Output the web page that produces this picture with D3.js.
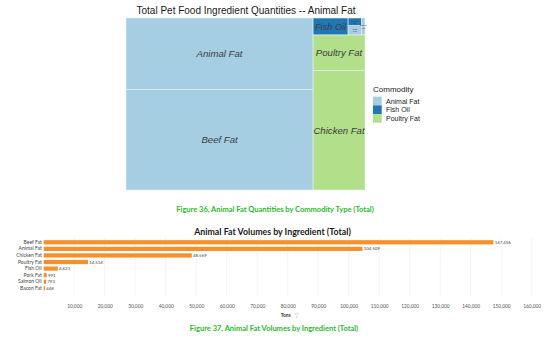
<!DOCTYPE html>
<html>
<head>
<meta charset="utf-8">
<script src="https://cdn.jsdelivr.net/npm/d3@7/dist/d3.min.js"></script>
<style>
  html, body { margin: 0; padding: 0; background: #fff; }
  svg { display: block; }
</style>
</head>
<body>
<script>
// ---------------- DATA ----------------
const ingredients = ["Beef Fat", "Animal Fat", "Chicken Fat", "Poultry Fat", "Fish Oil", "Pork Fat", "Salmon Oil", "Bacon Fat"];
const tons = [147456, 104509, 48569, 14514, 4623, 991, 793, 448];
const commodityOf = ["Animal Fat", "Animal Fat", "Poultry Fat", "Poultry Fat", "Fish Oil", "Animal Fat", "Fish Oil", "Animal Fat"];
const commodities = ["Animal Fat", "Fish Oil", "Poultry Fat"];
const commodityColors = ["#a6cee3", "#1f78b4", "#b2df8a"];
const xTickValues = [10000, 20000, 30000, 40000, 50000, 60000, 70000, 80000, 90000, 100000, 110000, 120000, 130000, 140000, 150000, 160000];
const treemapTitle = "Total Pet Food Ingredient Quantities -- Animal Fat";
const legendTitle = "Commodity";
const caption1 = "Figure 36, Animal Fat Quantities by Commodity Type (Total)";
const barTitle = "Animal Fat Volumes by Ingredient (Total)";
const axisTitle = "Tons";
const caption2 = "Figure 37, Animal Fat Volumes by Ingredient (Total)";

// ---------------- SETUP ----------------
const W = 554, H = 338;
const svg = d3.select("body").append("svg").attr("width", W).attr("height", H);
const fillColor = d3.scaleOrdinal().domain(commodities).range(commodityColors);

// ---------------- TREEMAP ----------------
const tm = { x0: 126, y0: 18, x1: 365, y1: 190 };
const tmW = tm.x1 - tm.x0, tmH = tm.y1 - tm.y0;
const root = d3.hierarchy({ children: ingredients.map((n, i) => ({ name: n, value: tons[i], commodity: commodityOf[i] })) })
  .sum(d => d.value || 0)
  .sort((a, b) => b.value - a.value);
d3.treemap().tile(d3.treemapSquarify.ratio(1.45)).size([tmW, tmH]).round(false)(root);

const tx = d3.scaleLinear().domain([0, tmW]).range([tm.x0, tm.x1]);
const ty = d3.scaleLinear().domain([0, tmH]).range([tm.y1, tm.y0]); // flipped vertically

svg.append("text")
  .attr("x", 246).attr("y", 13.5)
  .attr("text-anchor", "middle")
  .style("font-family", "'Liberation Sans', Arial, sans-serif")
  .style("font-size", "10px")
  .attr("fill", "#1a1a1a")
  .text(treemapTitle);

const cells = svg.append("g").selectAll("g").data(root.leaves()).join("g");
cells.append("rect")
  .attr("x", d => tx(d.x0))
  .attr("y", d => ty(d.y1))
  .attr("width", d => tx(d.x1) - tx(d.x0))
  .attr("height", d => ty(d.y0) - ty(d.y1))
  .attr("fill", d => fillColor(d.data.commodity))
  .attr("stroke", "#e8eef2")
  .attr("stroke-width", 0.6);

cells.filter(d => tx(d.x1) - tx(d.x0) > 25)
  .append("text")
  .attr("x", d => (tx(d.x0) + tx(d.x1)) / 2)
  .attr("y", d => (ty(d.y0) + ty(d.y1)) / 2 + 3.4)
  .attr("text-anchor", "middle")
  .style("font-family", "'Liberation Sans', Arial, sans-serif")
  .style("font-style", "italic")
  .style("font-size", d => (tx(d.x1) - tx(d.x0) < 40 ? "9.2px" : "9.6px"))
  .attr("fill", "#3c3c3c")
  .text(d => d.data.name);

// tiny labels in tiny cells
const tiny = cells.filter(d => tx(d.x1) - tx(d.x0) <= 25 && (ty(d.y0) - ty(d.y1)) > 5);
tiny.append("text")
  .attr("x", d => (tx(d.x0) + tx(d.x1)) / 2)
  .attr("y", d => (ty(d.y0) + ty(d.y1)) / 2 - 0.2)
  .attr("text-anchor", "middle")
  .style("font-family", "'Liberation Sans', Arial, sans-serif")
  .style("font-size", "2.4px")
  .attr("fill", "#3c3c3c")
  .text(d => d.data.name.split(" ")[0]);
tiny.append("text")
  .attr("x", d => (tx(d.x0) + tx(d.x1)) / 2)
  .attr("y", d => (ty(d.y0) + ty(d.y1)) / 2 + 2.3)
  .attr("text-anchor", "middle")
  .style("font-family", "'Liberation Sans', Arial, sans-serif")
  .style("font-size", "2.4px")
  .attr("fill", "#3c3c3c")
  .text(d => d.data.name.split(" ")[1]);

// legend
const lg = svg.append("g");
lg.append("text")
  .attr("x", 373).attr("y", 91.5)
  .style("font-family", "'Liberation Sans', Arial, sans-serif")
  .style("font-size", "8px")
  .attr("fill", "#222")
  .text(legendTitle);
const legY = d3.scaleBand().domain(commodities).range([96.7, 122.7]);
const li = lg.selectAll("g.item").data(commodities).join("g").attr("class", "item");
li.append("rect")
  .attr("x", 373).attr("y", d => legY(d))
  .attr("width", 8.7).attr("height", legY.bandwidth())
  .attr("fill", d => fillColor(d));
li.append("text")
  .attr("x", 386).attr("y", d => legY(d) + legY.bandwidth() / 2 + 2.5)
  .style("font-family", "'Liberation Sans', Arial, sans-serif")
  .style("font-size", "7px")
  .attr("fill", "#222")
  .text(d => d);

// caption 1
const captionColor = "#2db82d";
svg.append("text")
  .attr("x", 275).attr("y", 211.5)
  .attr("text-anchor", "middle")
  .style("font-family", "Lato, 'Open Sans', sans-serif")
  .style("font-weight", "bold")
  .style("font-size", "7.5px")
  .attr("fill", captionColor)
  .text(caption1);

// ---------------- BAR CHART ----------------
const bx = d3.scaleLinear().domain([0, 160000]).range([43.7, 531.7]);
const by = d3.scaleBand().domain(ingredients).range([239, 291.6]).paddingInner(0.36).paddingOuter(0.18);

svg.append("text")
  .attr("x", 272.5).attr("y", 235)
  .attr("text-anchor", "middle")
  .style("font-family", "Lato, 'Open Sans', sans-serif")
  .style("font-weight", "bold")
  .style("font-size", "8.8px")
  .attr("fill", "#1a1a1a")
  .text(barTitle);

// gridlines
svg.append("g").selectAll("line").data(xTickValues).join("line")
  .attr("x1", d => bx(d)).attr("x2", d => bx(d))
  .attr("y1", 238).attr("y2", 296)
  .attr("stroke", "#ececec").attr("stroke-width", 0.6);

// x axis via d3.axisBottom
const xAxis = d3.axisBottom(bx).tickValues(xTickValues).tickFormat(d3.format(",")).tickSize(0).tickPadding(0);
const gx = svg.append("g").attr("transform", "translate(0,305)").call(xAxis);
gx.select(".domain").remove();
gx.selectAll("text")
  .style("font-family", "Lato, 'Open Sans', sans-serif")
  .style("font-size", "4.8px")
  .attr("fill", "#555");

// y axis labels via d3.axisLeft
const yAxis = d3.axisLeft(by).tickSize(0).tickPadding(2);
const gy = svg.append("g").attr("transform", "translate(43.7,0)").call(yAxis);
gy.select(".domain").remove();
gy.selectAll("text")
  .style("font-family", "Lato, 'Open Sans', sans-serif")
  .style("font-size", "5px")
  .attr("fill", "#444");

// bars
svg.append("g").selectAll("rect").data(ingredients).join("rect")
  .attr("x", bx(0))
  .attr("y", d => by(d))
  .attr("width", (d, i) => bx(tons[i]) - bx(0))
  .attr("height", by.bandwidth())
  .attr("fill", "#f5902b");

// value labels
svg.append("g").selectAll("text").data(ingredients).join("text")
  .attr("x", (d, i) => bx(tons[i]) + 1.2)
  .attr("y", d => by(d) + by.bandwidth() / 2 + 1.6)
  .style("font-family", "Lato, 'Open Sans', sans-serif")
  .style("font-size", "4.4px")
  .attr("fill", "#444")
  .text((d, i) => d3.format(",")(tons[i]));

// axis title + filter glyph
svg.append("text")
  .attr("x", 290.5).attr("y", 317)
  .attr("text-anchor", "end")
  .style("font-family", "Lato, 'Open Sans', sans-serif")
  .style("font-weight", "bold")
  .style("font-size", "4.8px")
  .attr("fill", "#333")
  .text(axisTitle);
svg.append("path")
  .attr("d", "M294.5,313.3 L299,313.3 L297.3,315.3 L297.3,317.3 L296.2,317.8 L296.2,315.3 Z")
  .attr("fill", "none").attr("stroke", "#bbb").attr("stroke-width", 0.4);

// caption 2
svg.append("text")
  .attr("x", 274).attr("y", 330.5)
  .attr("text-anchor", "middle")
  .style("font-family", "Lato, 'Open Sans', sans-serif")
  .style("font-weight", "bold")
  .style("font-size", "7.5px")
  .attr("fill", captionColor)
  .text(caption2);
</script>
</body>
</html>
